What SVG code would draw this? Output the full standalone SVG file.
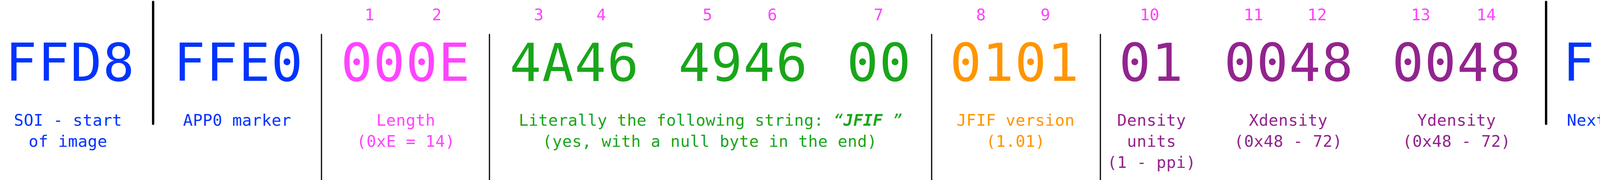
<svg xmlns="http://www.w3.org/2000/svg" width="4336" height="461" viewBox="0 0 4336 461">
<style>
  text { font-family: "DejaVu Sans Mono", "Liberation Mono", monospace; text-anchor: middle; }
  .big { font-size: 134px; letter-spacing: 2.5px; }
  .lbl { font-size: 41px; letter-spacing: 0.5px; }
  .num { font-size: 41px; fill: #ff44ff; }
  .blue { fill: #0033ff; }
  .pink { fill: #ff44ff; }
  .green { fill: #19a619; }
  .orange { fill: #ff9500; }
  .purple { fill: #93248f; }
  .thick { stroke: #000; stroke-width: 6; stroke-linecap: round; }
  .thin { stroke: #000; stroke-width: 3; stroke-linecap: round; }
</style>
<rect width="4336" height="461" fill="#ffffff"/>
<g id="connectors">
  <line class="thick" x1="392" y1="5" x2="392" y2="317"/>
  <line class="thin" x1="823" y1="88" x2="823" y2="462"/>
  <line class="thin" x1="1253" y1="88" x2="1253" y2="462"/>
  <line class="thin" x1="2385" y1="88" x2="2385" y2="462"/>
  <line class="thin" x1="2817" y1="88" x2="2817" y2="462"/>
  <line class="thick" x1="3958" y1="5" x2="3958" y2="317"/>
</g>
<g id="byte-numbers">
  <text class="num" x="946" y="52">1</text>
  <text class="num" x="1118" y="52">2</text>
  <text class="num" x="1379" y="52">3</text>
  <text class="num" x="1539" y="52">4</text>
  <text class="num" x="1811" y="52">5</text>
  <text class="num" x="1977" y="52">6</text>
  <text class="num" x="2249" y="52">7</text>
  <text class="num" x="2511" y="52">8</text>
  <text class="num" x="2676" y="52">9</text>
  <text class="num" x="2943" y="52">10</text>
  <text class="num" x="3209" y="52">11</text>
  <text class="num" x="3372" y="52">12</text>
  <text class="num" x="3637" y="52">13</text>
  <text class="num" x="3805" y="52">14</text>
</g>
<g id="soi">
  <text class="big blue" x="180" y="207">FFD8</text>
  <text class="lbl blue" x="174" y="322">SOI - start</text>
  <text class="lbl blue" x="174" y="376">of image</text>
</g>
<g id="app0">
  <text class="big blue" x="611" y="207">FFE0</text>
  <text class="lbl blue" x="607" y="322">APP0 marker</text>
</g>
<g id="length">
  <text class="big pink" x="1039" y="207">000E</text>
  <text class="lbl pink" x="1039" y="322">Length</text>
  <text class="lbl pink" x="1039" y="376">(0xE = 14)</text>
</g>
<g id="identifier">
  <text class="big green" x="1471" y="207">4A46</text>
  <text class="big green" x="1903" y="207">4946</text>
  <text class="big green" x="2251" y="207">00</text>
  <text class="lbl green" x="1819" y="322">Literally the following string: <tspan font-style="italic">“<tspan font-weight="bold">JFIF</tspan> ”</tspan></text>
  <text class="lbl green" x="1817" y="376">(yes, with a null byte in the end)</text>
</g>
<g id="version">
  <text class="big orange" x="2598" y="207">0101</text>
  <text class="lbl orange" x="2600" y="322">JFIF version</text>
  <text class="lbl orange" x="2600" y="376">(1.01)</text>
</g>
<g id="density-units">
  <text class="big purple" x="2948" y="207">01</text>
  <text class="lbl purple" x="2948" y="322">Density</text>
  <text class="lbl purple" x="2948" y="376">units</text>
  <text class="lbl purple" x="2948" y="430">(1 - ppi)</text>
</g>
<g id="xdensity">
  <text class="big purple" x="3300" y="207">0048</text>
  <text class="lbl purple" x="3298" y="322">Xdensity</text>
  <text class="lbl purple" x="3298" y="376">(0x48 - 72)</text>
</g>
<g id="ydensity">
  <text class="big purple" x="3730" y="207">0048</text>
  <text class="lbl purple" x="3729" y="322">Ydensity</text>
  <text class="lbl purple" x="3729" y="376">(0x48 - 72)</text>
</g>
<g id="next-segment">
  <text class="big blue" x="4167" y="207">FFDB</text>
  <text class="lbl blue" x="4162" y="322">Next segment</text>
</g>
</svg>
